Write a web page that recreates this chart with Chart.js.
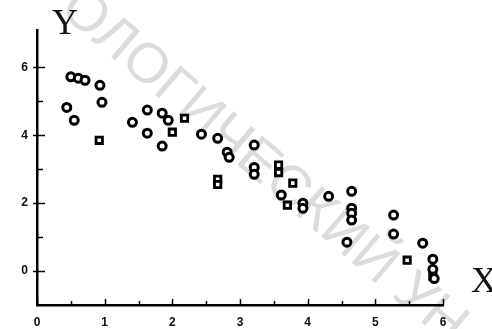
<!DOCTYPE html>
<html>
<head>
<meta charset="utf-8">
<script src="https://cdn.jsdelivr.net/npm/chart.js@4"></script>
<style>
  html, body { margin: 0; padding: 0; background: #fff; }
  #wrap { width: 492px; height: 329px; }
</style>
</head>
<body>
<div id="wrap"><canvas id="scatterChart"></canvas></div>
<script>
// data
const circleX = [0.50, 0.61, 0.71, 0.93, 0.96, 0.44, 0.55, 1.41, 1.63, 1.63, 1.85, 1.94, 1.85, 2.43, 2.67, 2.81, 2.84, 3.21, 3.21, 3.21, 3.61, 3.93, 3.93, 4.31, 4.65, 4.65, 4.65, 4.65, 4.58, 5.27, 5.27, 5.70, 5.85, 5.85, 5.87];
const circleY = [5.72, 5.68, 5.62, 5.47, 4.97, 4.82, 4.44, 4.38, 4.74, 4.06, 4.65, 4.44, 3.68, 4.03, 3.91, 3.50, 3.35, 3.71, 3.05, 2.85, 2.24, 2.00, 1.85, 2.20, 2.35, 1.85, 1.70, 1.50, 0.85, 1.65, 1.09, 0.82, 0.35, 0.05, -0.22];
const squareX = [0.92, 2.00, 2.18, 2.67, 2.67, 3.57, 3.57, 3.78, 3.70, 5.47, 5.85];
const squareY = [3.85, 4.09, 4.50, 2.70, 2.55, 3.12, 2.90, 2.59, 1.94, 0.32, -0.15];
const xTicks = [0, 0.5, 1, 1.5, 2, 2.5, 3, 3.5, 4, 4.5, 5, 5.5, 6];
const yTicks = [0, 1, 2, 3, 4, 5, 6];
const watermark = 'ОЛОГИЧЕСКИЙ УН';

const toPoints = (xs, ys) => xs.map((x, i) => ({ x: x, y: ys[i] }));

// inward tick marks, axis names and the watermark
const decor = {
  id: 'decor',
  beforeDraw(chart) {
    const ctx = chart.ctx;
    ctx.save();
    ctx.translate(68, 0);
    ctx.rotate(40.5 * Math.PI / 180);
    ctx.font = '56px "Liberation Sans", Arial, sans-serif';
    ctx.fillStyle = 'rgba(150,150,150,0.33)';
    ctx.textBaseline = 'middle';
    ctx.fillText(watermark, 0, 0);
    ctx.restore();
  },
  afterDraw(chart) {
    const ctx = chart.ctx;
    const xs = chart.scales.x, ys = chart.scales.y;
    const area = chart.chartArea;
    ctx.save();
    ctx.strokeStyle = '#000';
    ctx.lineWidth = 1.5;
    xTicks.forEach(v => {
      const px = Math.round(xs.getPixelForValue(v)) + 0.5;
      const len = Number.isInteger(v) ? 6 : 4;
      ctx.beginPath();
      ctx.moveTo(px, area.bottom);
      ctx.lineTo(px, area.bottom - len);
      ctx.stroke();
    });
    yTicks.forEach(v => {
      const py = Math.round(ys.getPixelForValue(v)) + 0.5;
      const major = v % 2 === 0;
      ctx.beginPath();
      ctx.moveTo(area.left - (major ? 4 : 0), py);
      ctx.lineTo(area.left + (major ? 8 : 6), py);
      ctx.stroke();
    });
    ctx.fillStyle = '#111';
    ctx.font = '36px "Liberation Serif", "Times New Roman", serif';
    ctx.textAlign = 'center';
    ctx.textBaseline = 'middle';
    ctx.fillText('Y', 65, 25);
    ctx.fillText('X', 484, 283);
    ctx.restore();
  }
};

const ctx = document.getElementById('scatterChart').getContext('2d');
new Chart(ctx, {
  type: 'scatter',
  data: {
    datasets: [{
      label: 'circles',
      data: toPoints(circleX, circleY),
      pointStyle: 'circle',
      pointRadius: 4,
      pointBorderWidth: 3,
      pointBackgroundColor: '#fff',
      pointBorderColor: '#000'
    }, {
      label: 'squares',
      data: toPoints(squareX, squareY),
      pointStyle: 'rect',
      pointRadius: 4.5,
      pointBorderWidth: 2.8,
      pointBackgroundColor: '#fff',
      pointBorderColor: '#000'
    }]
  },
  options: {
    responsive: true,
    maintainAspectRatio: false,
    animation: false,
    layout: { padding: { top: 30, right: 49, left: 0, bottom: 0 } },
    plugins: {
      legend: { display: false },
      tooltip: { enabled: false }
    },
    scales: {
      x: {
        type: 'linear',
        min: 0,
        max: 6,
        afterFit(s) { s.height = 24; },
        afterBuildTicks(s) { s.ticks = xTicks.filter(Number.isInteger).map(v => ({ value: v })); },
        grid: { display: false, drawTicks: false },
        border: { display: true, color: '#000', width: 2.5 },
        ticks: {
          padding: 10,
          color: '#111',
          font: { family: 'Arial, "Liberation Sans", sans-serif', size: 12, weight: 'bold' },
          maxRotation: 0
        }
      },
      y: {
        type: 'linear',
        min: -1,
        max: 7.1,
        afterFit(s) { s.width = 37; },
        afterBuildTicks(s) { s.ticks = yTicks.filter(v => v % 2 === 0).map(v => ({ value: v })); },
        grid: { display: false, drawTicks: false },
        border: { display: true, color: '#000', width: 2.5 },
        ticks: {
          padding: 9,
          color: '#111',
          font: { family: 'Arial, "Liberation Sans", sans-serif', size: 12, weight: 'bold' }
        }
      }
    }
  },
  plugins: [decor]
});
</script>
</body>
</html>
